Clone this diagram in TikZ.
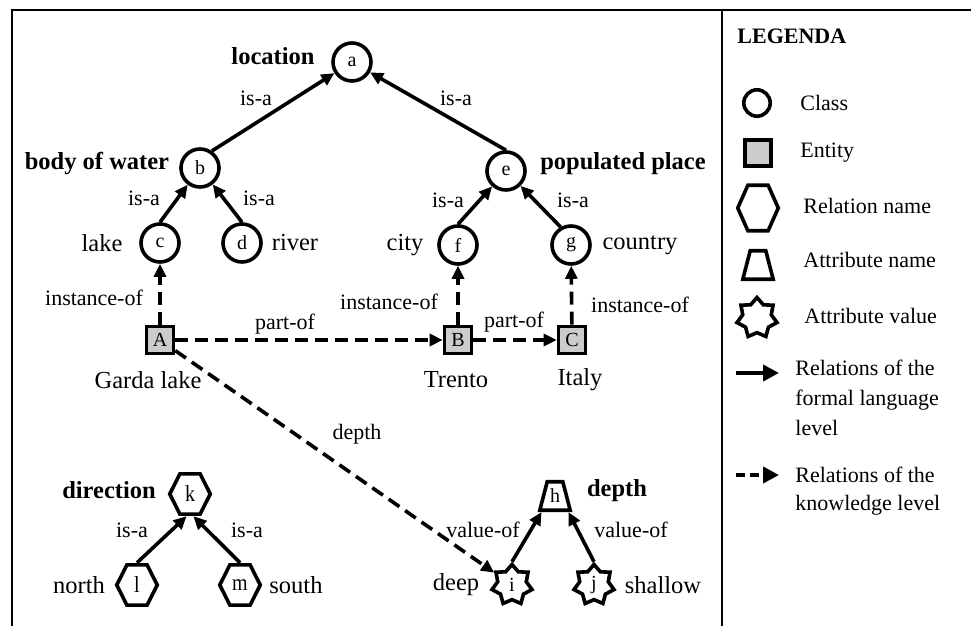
\documentclass[tikz,border=0pt]{standalone}
\usepackage{fontspec}
\setmainfont{Liberation Serif}
\usetikzlibrary{arrows.meta,shapes.geometric}

\tikzset{
  shp/.style={draw, line width=1.8pt, inner sep=0pt, font=\fontsize{10}{12}\selectfont},
  cls/.style={shp, circle, minimum size=19pt},
  ent/.style={shp, rectangle, fill=black!20, minimum size=13.5pt},
  rel/.style={shp, regular polygon, regular polygon sides=6, minimum size=20.25pt, yscale=1.15},
  att/.style={shp, trapezium, trapezium left angle=62, trapezium right angle=62,
    trapezium stretches=true, minimum height=14.25pt, inner xsep=1.4pt},
  val/.style={shp, star, star points=7, star point ratio=1.4, minimum size=20.5pt},
  lbl/.style={inner sep=0pt, font=\fontsize{12.25}{14}\selectfont},
  blbl/.style={inner sep=0pt, font=\fontsize{12.25}{14}\selectfont\bfseries},
  elab/.style={inner sep=0pt, font=\fontsize{11}{13}\selectfont},
  legtxt/.style={inner sep=0pt, anchor=west, align=left, font=\fontsize{11}{15}\selectfont},
  formal/.style={line width=1.8pt, -{Triangle[length=6.5pt,width=6pt]}},
  know/.style={formal, dash pattern=on 6.5pt off 3.5pt},
}

\begin{document}
\begin{tikzpicture}[x=0.5pt,y=-0.5pt]
  \useasboundingbox (0,0) rectangle (971,626);

  % frame and legend separator
  \draw[line width=1pt] (12,626) -- (12,10) -- (971,10);
  \draw[line width=1pt] (722,10) -- (722,626);

  % classes
  \node[cls] (a) at (352,62) {a};
  \node[cls] (b) at (200,168) {b};
  \node[cls] (c) at (160,243) {c};
  \node[cls] (d) at (242,243) {d};
  \node[cls] (e) at (506,171) {e};
  \node[cls] (f) at (458,245) {f};
  \node[cls] (g) at (571,245) {g};

  % entities
  \node[ent] (A) at (160,340) {A};
  \node[ent] (B) at (458,340) {B};
  \node[ent] (C) at (572,340) {C};

  % relation names
  \node[rel] (k) at (190,494) {k};
  \node[rel] (l) at (137,585) {l};
  \node[rel] (m) at (240,585) {m};

  % attribute name and values
  \node[att] (h) at (555,496) {h};
  \node[val] (i) at (512,585) {i};
  \node[val] (j) at (594,585) {j};

  % node names
  \node[blbl] (tlocation) at (273,56) {location};
  \node[blbl] (tbody) at (97,164) {body of water};
  \node[lbl] (tlake) at (102,243) {lake};
  \node[lbl] (triver) at (295,243) {river};
  \node[blbl] (tpopulated) at (623,164) {populated place};
  \node[lbl] (tcity) at (405,245) {city};
  \node[lbl] (tcountry) at (640,245) {country};
  \node[lbl] (tgarda) at (148,380) {Garda lake};
  \node[lbl] (ttrento) at (456,380) {Trento};
  \node[lbl] (titaly) at (580,380) {Italy};
  \node[blbl] (tdirection) at (109,490) {direction};
  \node[lbl] (tnorth) at (79,585) {north};
  \node[lbl] (tsouth) at (296,585) {south};
  \node[blbl] (tdepth) at (617,491) {depth};
  \node[lbl] (tdeep) at (456,585) {deep};
  \node[lbl] (tshallow) at (663,585) {shallow};

  % formal language level
  \draw[formal] (b.55) -- (a);
  \draw[formal] (e.north) -- (a);
  \draw[formal] (c.north) -- (b);
  \draw[formal] (d.north) -- (b);
  \draw[formal] (f.north) -- (e);
  \draw[formal] (g.120) -- (e);
  \draw[formal] (l.north) -- (k.-100);
  \draw[formal] (m.north) -- (k.-80);
  \draw[formal] (i.north) -- (h.-130);
  \draw[formal] (j.north) -- (h.-50);

  % knowledge level
  \draw[know] (A) -- (c);
  \draw[know] (B) -- (f);
  \draw[know] (C) -- (g);
  \draw[know] (A) -- (B);
  \draw[know] (B) -- (C);
  \draw[know] (A) -- (i);

  % connector labels
  \node[elab] (isa1) at (256,98) {is-a};
  \node[elab] (isa2) at (456,98) {is-a};
  \node[elab] (isa3) at (144,198) {is-a};
  \node[elab] (isa4) at (259,198) {is-a};
  \node[elab] (isa5) at (448,200) {is-a};
  \node[elab] (isa6) at (573,200) {is-a};
  \node[elab] (inst1) at (94,298) {instance-of};
  \node[elab] (inst2) at (389,302) {instance-of};
  \node[elab] (inst3) at (640,305) {instance-of};
  \node[elab] (part1) at (285,324) {part-of};
  \node[elab] (part2) at (514,322) {part-of};
  \node[elab] (ldepth) at (357,434) {depth};
  \node[elab] (isa7) at (132,530) {is-a};
  \node[elab] (isa8) at (247,530) {is-a};
  \node[elab] (valof1) at (483,530) {value-of};
  \node[elab] (valof2) at (631,530) {value-of};

  % legend
  \node[inner sep=0pt, anchor=west, font=\fontsize{11}{13}\selectfont\bfseries] (legtitle) at (737,36) {LEGENDA};
  \node[cls, minimum size=13.2pt] (lcls) at (757,103) {};
  \node[legtxt] (lclstxt) at (800,103) {Class};
  \node[ent, minimum size=13pt] (lent) at (758,153) {};
  \node[legtxt] (lenttxt) at (800,153) {Entity};
  \node[rel, yscale=1.13] (lrel) at (758,208) {};
  \node[legtxt] (lreltxt) at (803,206) {Relation name};
  \node[att] (latt) at (758,265) {\phantom{h}};
  \node[legtxt] (latttxt) at (803,260) {Attribute name};
  \node[val] (lval) at (757,318) {};
  \node[legtxt] (lvaltxt) at (804,316) {Attribute value};

  \coordinate (lf1) at (736,373);
  \coordinate (lf2) at (779,373);
  \draw[line width=2.4pt, -{Triangle[length=8pt,width=8pt]}] (lf1) -- (lf2);
  \node[legtxt] (lftxt) at (795,398) {Relations of the\\formal language\\level};
  \coordinate (lk1) at (736,475);
  \coordinate (lk2) at (779,475);
  \draw[line width=2.4pt, dash pattern=on 4.5pt off 2.5pt, -{Triangle[length=8pt,width=8pt]}] (lk1) -- (lk2);
  \node[legtxt, font=\fontsize{11}{14}\selectfont] (lktxt) at (795,491) {Relations of the\\knowledge level};
\end{tikzpicture}
\end{document}
